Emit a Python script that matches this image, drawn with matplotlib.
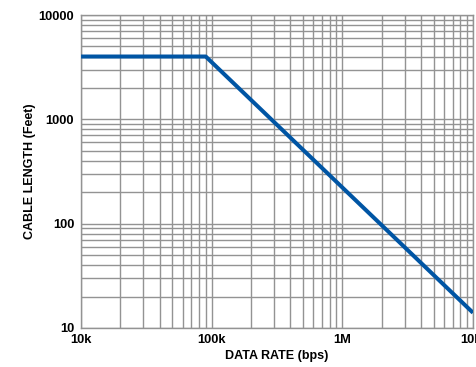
import matplotlib.pyplot as plt
from matplotlib.ticker import FixedLocator, LogLocator, NullFormatter

# Cable length vs data rate
data_rate = [1e4, 9e4, 1e7]
cable_length = [4000, 4000, 14]

x_ticks = [1e4, 1e5, 1e6, 1e7]
x_labels = ['10k', '100k', '1M', '10M']
y_ticks = [10, 100, 1000, 10000]
y_labels = ['10', '100', '1000', '10000']

plt.rcParams['font.family'] = ['Liberation Sans', 'DejaVu Sans']

fig = plt.figure(figsize=(4.77, 3.67), dpi=100)
ax = fig.add_axes([0.170, 0.1063, 0.8216, 0.8528])

ax.plot(data_rate, cable_length, color='#0055a4', linewidth=2.9,
        solid_capstyle='butt', zorder=5)

ax.set_xscale('log')
ax.set_yscale('log')
ax.set_xlim(1e4, 1e7)
ax.set_ylim(10, 10000)

ax.xaxis.set_major_locator(FixedLocator(x_ticks))
ax.set_xticklabels(x_labels, fontsize=9.3, fontweight='bold')
ax.yaxis.set_major_locator(FixedLocator(y_ticks))
ax.set_yticklabels(y_labels, fontsize=9.3, fontweight='bold')
for axis in (ax.xaxis, ax.yaxis):
    axis.set_minor_locator(LogLocator(base=10, subs=range(2, 10)))
    axis.set_minor_formatter(NullFormatter())

ax.tick_params(which='both', length=0)
ax.tick_params(axis='x', pad=4)
ax.tick_params(axis='y', pad=5)

ax.grid(True, which='both', color='#939393', linewidth=1.0)
ax.set_axisbelow(True)
for s in ax.spines.values():
    s.set_color('#939393')
    s.set_linewidth(1.0)

ax.set_xlabel('DATA RATE (bps)', fontsize=9, fontweight='bold', labelpad=3)
ax.set_ylabel('CABLE LENGTH (Feet)', fontsize=9, fontweight='bold', labelpad=2)

fig.savefig('out.png', dpi=100, facecolor='white')
